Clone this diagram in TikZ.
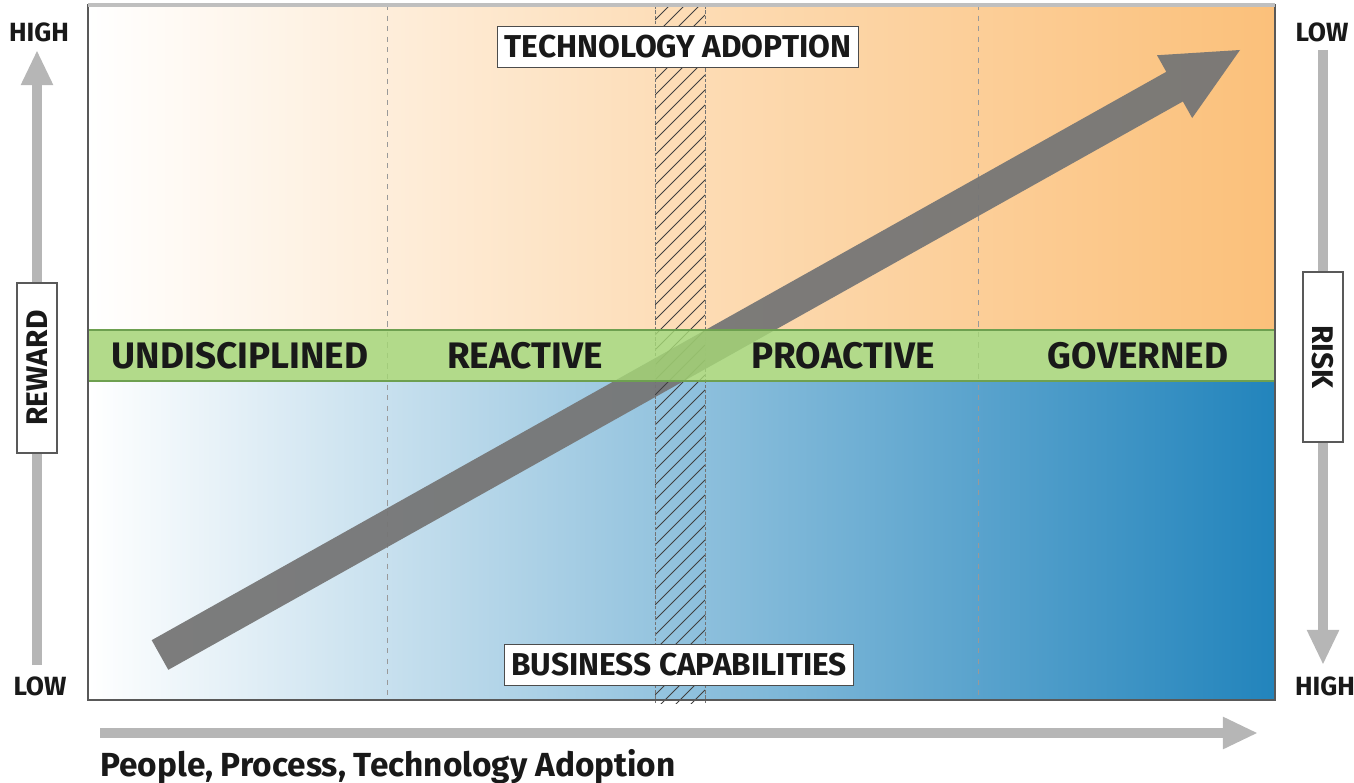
\documentclass[tikz,border=0pt]{standalone}
\usepackage{fontspec}
\setmainfont{Fira Sans}
\usetikzlibrary{calc,arrows.meta}

\definecolor{warmorange}{RGB}{251,192,122}
\definecolor{deepblue}{RGB}{34,132,188}
\definecolor{bandgreen}{RGB}{164,212,118}
\definecolor{bandedge}{RGB}{110,160,80}
\definecolor{arrowgray}{RGB}{118,118,118}
\definecolor{axisgray}{RGB}{182,182,182}

\begin{document}
\begin{tikzpicture}[x=0.02cm,y=-0.02cm,
  stage/.style={font=\bfseries\fontsize{21}{23}\selectfont, text=black!90},
  tagbox/.style={draw=black!70, line width=0.7pt, fill=white, text=black!90,
    font=\bfseries\fontsize{18}{20}\selectfont, inner xsep=4pt, inner ysep=5pt},
  sidebox/.style={draw=black!65, line width=0.8pt, fill=white, text=black!90,
    font=\bfseries\fontsize{17}{19}\selectfont, minimum width=3.4cm, minimum height=0.8cm},
  endlabel/.style={font=\bfseries\fontsize{15}{17}\selectfont, text=black!90},
  axis/.style={draw=axisgray, line width=5.5pt, -{Triangle[length=20pt,width=17pt]}}]

\useasboundingbox (0,0) rectangle (1354,783);

% Background: warm half above the band, cool half below
\shade[left color=white, right color=warmorange, middle color=warmorange!55!white] (88,5) rectangle (1275,330);
\shade[left color=white, right color=deepblue] (88,381) rectangle (1275,700);

% Stage dividers
\foreach \x in {387,978}
  \draw[black!40, line width=0.5pt, dash pattern=on 3pt off 3pt] (\x,5) -- (\x,700);

% Big diagonal arrow
\coordinate (tail) at (160,655);
\coordinate (tip) at (1240,50);
\coordinate (neck) at ($(tip)!15mm!(tail)$);
\fill[arrowgray, opacity=0.95] ($(tail)!3.4mm!90:(tip)$) -- ($(neck)!3.4mm!90:(tip)$)
  -- ($(neck)!7.2mm!90:(tip)$) -- (tip) -- ($(neck)!7.2mm!-90:(tip)$)
  -- ($(neck)!3.4mm!-90:(tip)$) -- ($(tail)!3.4mm!-90:(tip)$) -- cycle;

% Hatched strip
\begin{scope}
  \clip (655,5) rectangle (705,703);
  \foreach \y in {5,20,...,770}
    \draw[black!75, line width=0.5pt] (655,\y) -- (705,\y-50);
\end{scope}
\draw[black!55, line width=0.4pt, dash pattern=on 2pt off 1pt] (655,5) -- (655,703) (705,5) -- (705,703);

% Green band with the stages
\fill[bandgreen, opacity=0.85] (88,330) rectangle (1275,381);
\draw[bandedge, line width=0.6pt] (88,330) -- (1275,330) (88,381) -- (1275,381);

\node[stage] (undisc) at (240,356) {UNDISCIPLINED};
\node[stage] (reactive) at (525,356) {REACTIVE};
\node[stage] (proactive) at (843,356) {PROACTIVE};
\node[stage] (governed) at (1138,356) {GOVERNED};

\node[tagbox] (tech) at (678,47) {TECHNOLOGY ADOPTION};
\node[tagbox] (business) at (679,665) {BUSINESS CAPABILITIES};

% Frame
\draw[black!65, line width=0.8pt] (88,5) rectangle (1275,700);
\draw[black!25, line width=2.5pt] (88,5) -- (1275,5);

% Reward axis
\coordinate (rewardlow) at (37,665);
\coordinate (rewardhigh) at (37,50);
\draw[axis] (rewardlow) -- (rewardhigh);
\node[sidebox, rotate=90] (reward) at (37,368) {REWARD};
\node[endlabel] (rewardtop) at (39,32) {HIGH};
\node[endlabel] (rewardbot) at (40,686) {LOW};

% Risk axis
\coordinate (risklow) at (1323,50);
\coordinate (riskhigh) at (1323,665);
\draw[axis] (risklow) -- (riskhigh);
\node[sidebox, rotate=-90] (risk) at (1323,357) {RISK};
\node[endlabel] (risktop) at (1322,32) {LOW};
\node[endlabel] (riskbot) at (1325,686) {HIGH};

% Adoption axis
\coordinate (adoptstart) at (100,733);
\coordinate (adoptend) at (1258,733);
\draw[axis] (adoptstart) -- (adoptend);
\node[anchor=base west, font=\bfseries\fontsize{19}{21}\selectfont, text=black!90, inner sep=0pt]
  (adoption) at (100,776) {People, Process, Technology Adoption};

\end{tikzpicture}
\end{document}
